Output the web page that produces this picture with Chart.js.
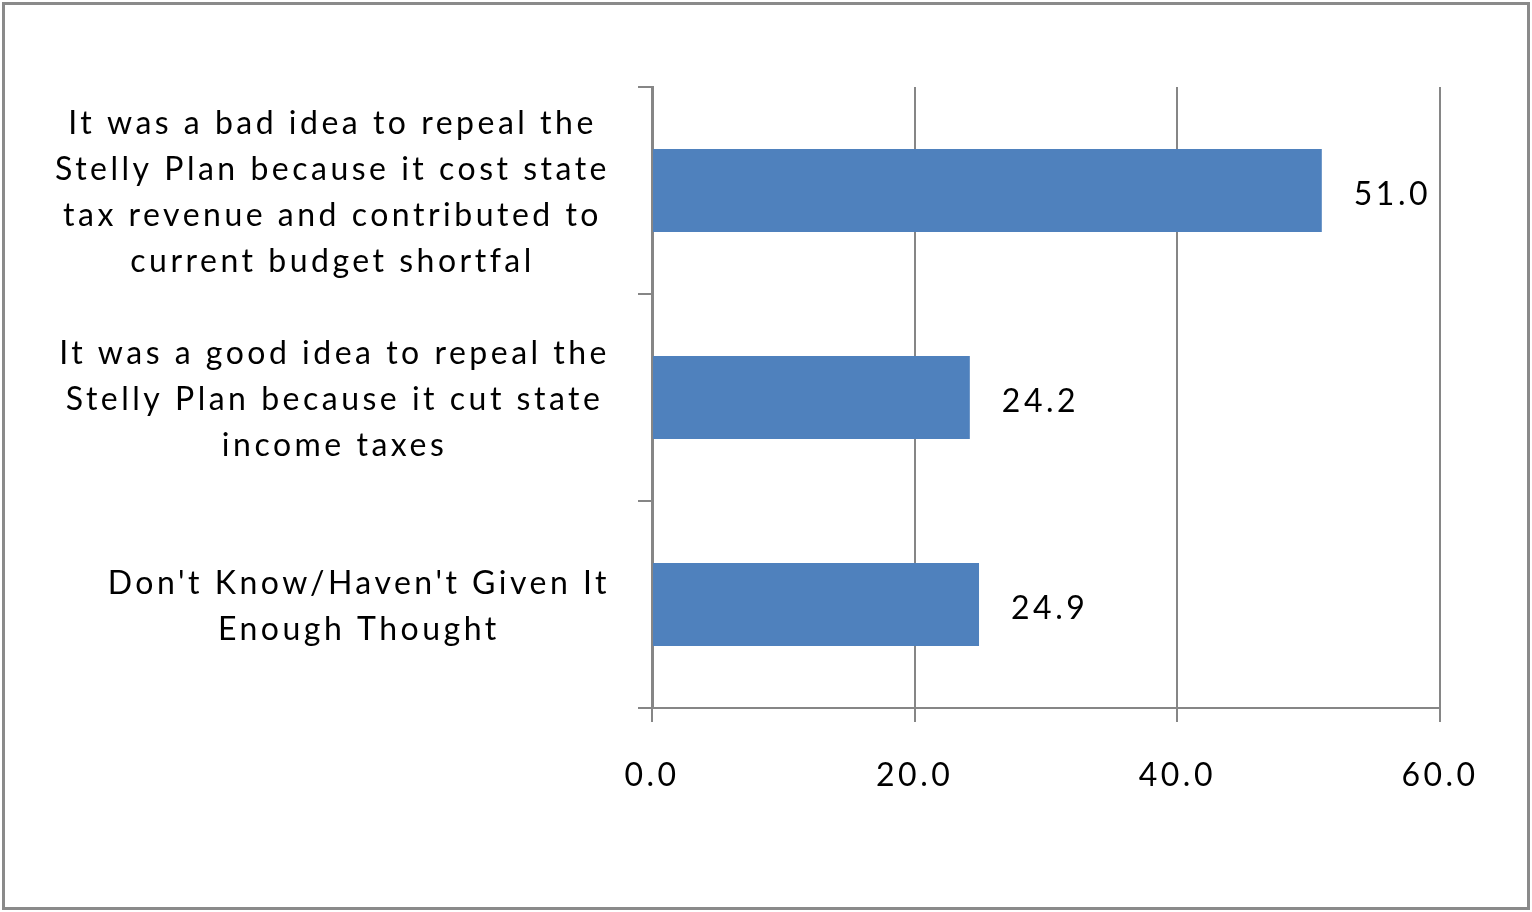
<!DOCTYPE html>
<html><head><meta charset="utf-8">
<script src="https://cdn.jsdelivr.net/npm/chart.js@4/dist/chart.umd.min.js"></script>
<style>
html,body{margin:0;padding:0;background:#fff;}
#wrap{position:absolute;left:0;top:0;width:1532px;height:912px;}
#frame{position:absolute;left:2px;top:2px;width:1528px;height:908px;border:3px solid #8a8a8a;box-sizing:border-box;pointer-events:none;}
</style></head>
<body>
<div id="wrap"><canvas id="c" width="1532" height="912"></canvas><div id="frame"></div></div>
<script>
const categories = [
  ["It was a bad idea to repeal the","Stelly Plan because it cost state","tax revenue and contributed to","current budget shortfal"],
  ["It was a good idea to repeal the","Stelly Plan because it cut state","income taxes"],
  ["Don't Know/Haven't Given It","Enough Thought"]
];
const values = [51.0, 24.2, 24.9];
const xTicks = [0, 20, 40, 60];

const FONT = "Lato, 'Open Sans', sans-serif";
const FSIZE = 32;
const SPACING = "3.5px";
const GRID = "#868686";

const yLabelPlugin = {
  id: 'yLabels',
  beforeInit(chart){ chart.ctx.letterSpacing = SPACING; },
  beforeDraw(chart){ chart.ctx.letterSpacing = SPACING; },
  afterDraw(chart){
    const ctx = chart.ctx;
    const ys = chart.scales.y;
    ctx.save();
    ctx.letterSpacing = SPACING;
    ctx.font = FSIZE + "px " + FONT;
    ctx.fillStyle = "#000";
    ctx.textBaseline = "middle";
    const rightEdge = 610, lh = 46;
    categories.forEach((lines, i) => {
      const cy = ys.getPixelForValue(i) + 2;
      const widest = Math.max(...lines.map(l => ctx.measureText(l).width));
      const cx = rightEdge - widest / 2;
      ctx.textAlign = "center";
      const y0 = cy - (lines.length - 1) * lh / 2;
      lines.forEach((l, k) => ctx.fillText(l, cx, y0 + k * lh));
    });
    const meta = chart.getDatasetMeta(0);
    ctx.textAlign = "left";
    meta.data.forEach((bar, i) => {
      ctx.fillText(values[i].toFixed(1), bar.x + 32, bar.y + 4);
    });
    ctx.restore();
  }
};

new Chart(document.getElementById('c'), {
  type: 'bar',
  data: {
    labels: categories.map(c => c.join(' ')),
    datasets: [{
      data: values,
      backgroundColor: '#4F81BD',
      borderWidth: 0,
      categoryPercentage: 1.0,
      barPercentage: 0.4
    }]
  },
  options: {
    indexAxis: 'y',
    responsive: false,
    animation: false,
    devicePixelRatio: 1,
    layout: { padding: { left: 0, top: 87, right: 92, bottom: 0 } },
    plugins: { legend: { display: false }, tooltip: { enabled: false } },
    scales: {
      x: {
        min: 0, max: 60,
        afterBuildTicks(s){ s.ticks = xTicks.map(v => ({ value: v })); },
        afterFit(s){ s.height = 912 - 708; },
        ticks: {
          font: { family: FONT, size: FSIZE },
          color: '#000',
          padding: 34,
          maxRotation: 0,
          callback: v => Number(v).toFixed(1)
        },
        grid: { color: GRID, lineWidth: 2, tickLength: 14, drawTicks: true },
        border: { color: GRID, width: 2 }
      },
      y: {
        afterFit(s){ s.width = 652; },
        ticks: { display: false },
        grid: { offset: true, drawOnChartArea: false, drawTicks: true, tickLength: 14, color: GRID, lineWidth: 2 },
        border: { color: GRID, width: 3 }
      }
    }
  },
  plugins: [yLabelPlugin]
});
</script>
</body></html>
